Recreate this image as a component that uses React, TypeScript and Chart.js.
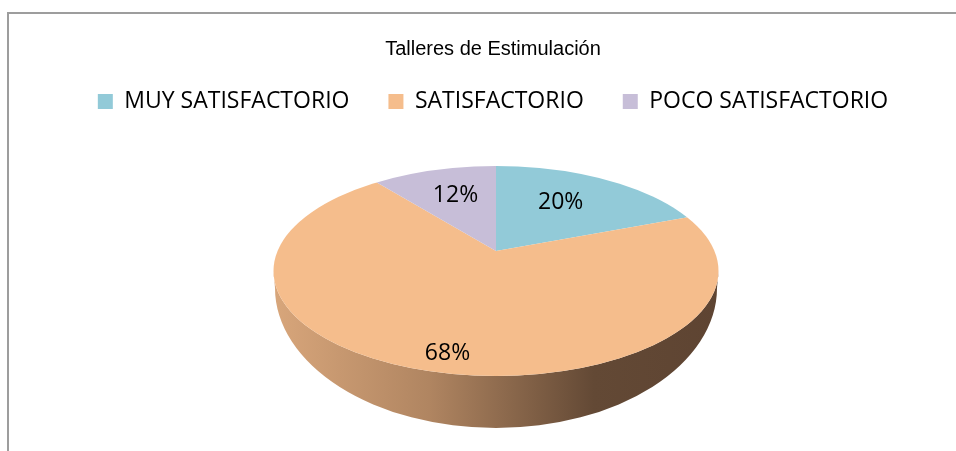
import React, { useEffect, useRef } from 'react';
import { Chart, registerables } from 'chart.js';

Chart.register(...registerables);

const chartTitle = 'Talleres de Estimulación';
const categories = ['MUY SATISFACTORIO', 'SATISFACTORIO', 'POCO SATISFACTORIO'];
const values = [20, 68, 12];
const sliceColors = ['#92cad8', '#f5bd8c', '#c7bed8'];

// Geometry of the 3D look (visible top face, slice apex, side bottom)
const TOP = { cx: 496, cy: 271, rx: 222.5, ry: 105 };
const APEX = { x: 496, y: 251, rx: 250, ry: 135 };
const BOTTOM = { cx: 496, cy: 288, rx: 221, ry: 140 };

const pie3d = {
  id: 'pie3d',
  beforeDraw(chart: any) {
    const ctx = chart.ctx;
    ctx.save();
    ctx.strokeStyle = '#9d9d9d';
    ctx.lineWidth = 2;
    ctx.beginPath();
    ctx.moveTo(8, chart.height);
    ctx.lineTo(8, 13);
    ctx.lineTo(chart.width, 13);
    ctx.stroke();
    ctx.restore();
  },
  beforeDatasetDraw(chart: any, args: any) {
    const ctx = chart.ctx;
    const arcs = args.meta.data;
    if (!arcs.length) return false;
    const first = arcs[0];
    const r = first.outerRadius;
    const cx0 = first.x;
    const cy0 = first.y;

    // side wall
    ctx.save();
    const g = ctx.createLinearGradient(TOP.cx - TOP.rx, 0, TOP.cx + TOP.rx, 0);
    g.addColorStop(0, '#d8a67b');
    g.addColorStop(0.35, '#b08561');
    g.addColorStop(0.72, '#634935');
    g.addColorStop(1, '#5e4432');
    ctx.beginPath();
    ctx.moveTo(TOP.cx - TOP.rx, TOP.cy);
    ctx.lineTo(BOTTOM.cx - BOTTOM.rx, BOTTOM.cy);
    ctx.ellipse(BOTTOM.cx, BOTTOM.cy, BOTTOM.rx, BOTTOM.ry, 0, Math.PI, 0, true);
    ctx.lineTo(TOP.cx + TOP.rx, TOP.cy);
    ctx.ellipse(TOP.cx, TOP.cy, TOP.rx, TOP.ry, 0, 0, Math.PI, false);
    ctx.closePath();
    ctx.fillStyle = g;
    ctx.fill();
    ctx.restore();

    // top face: library arcs, projected
    ctx.save();
    ctx.beginPath();
    ctx.ellipse(TOP.cx, TOP.cy, TOP.rx, TOP.ry, 0, 0, Math.PI * 2);
    ctx.clip();
    ctx.translate(APEX.x, APEX.y);
    ctx.scale(APEX.rx / r, APEX.ry / r);
    ctx.translate(-cx0, -cy0);
    arcs.forEach((a: any) => a.draw(ctx, chart.chartArea));
    ctx.restore();

    // labels
    const total = values.reduce((s, v) => s + v, 0);
    ctx.save();
    ctx.font = '23px "Open Sans"';
    ctx.fillStyle = '#000';
    ctx.textAlign = 'center';
    ctx.textBaseline = 'middle';
    arcs.forEach((a: any, i: number) => {
      const mid = (a.startAngle + a.endAngle) / 2;
      const share = values[i] / total;
      const f = share > 0.5 ? 0.78 : 0.44;
      const x = APEX.x + Math.cos(mid) * APEX.rx * f;
      const y = APEX.y + Math.sin(mid) * APEX.ry * f;
      ctx.fillText(Math.round(share * 100) + '%', x, y);
    });
    ctx.restore();
    return false;
  },
};

export default function App() {
  const ref = useRef<HTMLCanvasElement | null>(null);
  useEffect(() => {
    document.body.style.margin = '0';
    const canvas = ref.current;
    if (!canvas) return;
    const chart = new Chart(canvas, {
      type: 'pie',
      data: {
        labels: categories,
        datasets: [
          {
            data: values,
            backgroundColor: sliceColors,
            borderWidth: 0,
          },
        ],
      },
      options: {
        responsive: false,
        animation: false,
        devicePixelRatio: 1,
        events: [],
        layout: { padding: { left: 30, right: 0, top: 0, bottom: 0 } },
        plugins: {
          title: {
            display: true,
            text: chartTitle,
            color: '#000',
            font: { family: '"Liberation Sans", Arial, sans-serif', size: 20, weight: 'normal' },
            padding: { top: 37, bottom: -10 },
          },
          legend: {
            display: true,
            position: 'top',
            labels: {
              color: '#000',
              font: { family: '"Open Sans", sans-serif', size: 23 },
              boxWidth: 15,
              boxHeight: 15,
              padding: 39,
            },
          },
          tooltip: { enabled: false },
        },
      },
      plugins: [pie3d],
    });
    return () => chart.destroy();
  }, []);
  return (
    <div style={{ width: 956, height: 451 }}>
      <canvas ref={ref} width={956} height={451} style={{ display: 'block' }} />
    </div>
  );
}
